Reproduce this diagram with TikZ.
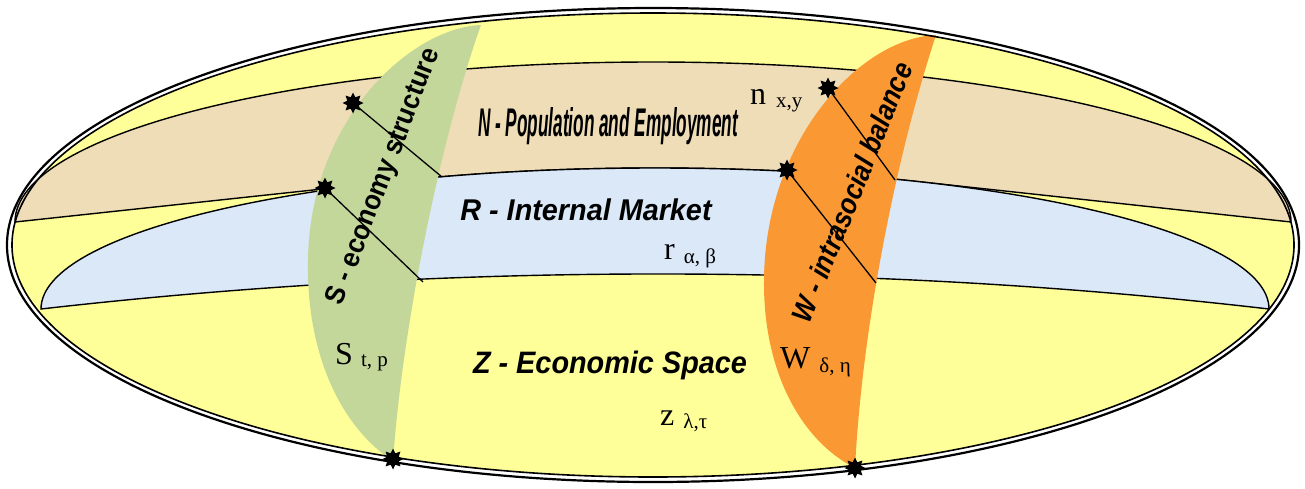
\documentclass[tikz,border=0pt]{standalone}
\usepackage{fontspec}
\setmainfont{Liberation Serif}
\setsansfont{Liberation Sans}
\usetikzlibrary{shapes.geometric}
\definecolor{ylw}{RGB}{255,255,153}
\definecolor{tanc}{RGB}{239,221,184}
\definecolor{bluec}{RGB}{218,232,247}
\definecolor{greenc}{RGB}{196,215,155}
\definecolor{orangec}{RGB}{250,153,51}
\begin{document}
\begin{tikzpicture}[x=1pt,y=-1pt,
  band/.style={draw=black,line width=1.4pt},
  starmark/.style={star,star points=8,star point ratio=1.7,minimum size=21pt,inner sep=0pt,fill=black},
  ptr/.style={draw=black,line width=1.3pt},
  lab/.style={inner sep=0pt},
  ser/.style={inner sep=0pt,anchor=base west,font=\fontsize{32}{36}\selectfont}]
\useasboundingbox (0,0) rectangle (1305,488);
% interior
\fill[ylw] (653,245) ellipse[x radius=641, y radius=232];
% N band
\path[band,fill=tanc] (15,222) arc[start angle=180,end angle=360,x radius=638,y radius=160]
  -- (917.2,181.5) arc[start angle=295.3,end angle=245,x radius=614,y radius=141] -- cycle;
% R band
\path[band,fill=bluec] (41,309) arc[start angle=180,end angle=360,x radius=614,y radius=141]
  .. controls (867,262.3) and (451,262.3) .. cycle;
% S band
\fill[greenc] (393,461) .. controls (402,330) and (440,140) .. (481,25)
  .. controls (410,28) and (310,120) .. (308,260)
  .. controls (306,360) and (345,430) .. cycle;
% W band
\fill[orangec] (855,468) .. controls (862,330) and (895,160) .. (936,35)
  .. controls (860,38) and (765,140) .. (764,280)
  .. controls (763,370) and (800,440) .. cycle;
% outline
\draw[line width=2.2pt] (653,245) ellipse[x radius=646, y radius=237];
\draw[line width=1.6pt] (653,245) ellipse[x radius=641, y radius=232];
% markers
\node[starmark] (s1) at (353,103) {};
\node[starmark] (s2) at (325,188) {};
\node[starmark] (s3) at (393,459) {};
\node[starmark] (w1) at (828,88) {};
\node[starmark] (w2) at (787,170) {};
\node[starmark] (w3) at (855,468) {};
\coordinate (s1e) at (442,177);
\coordinate (s2e) at (423,282);
\coordinate (w1e) at (895,180);
\coordinate (w2e) at (876,283);
\draw[ptr] (s1.center) -- (s1e);
\draw[ptr] (s2.center) -- (s2e);
\draw[ptr] (w1.center) -- (w1e);
\draw[ptr] (w2.center) -- (w2e);
% labels
\node[lab,anchor=base] (ntext) at (608,136) {\fontsize{40}{44}\selectfont\sffamily\bfseries\itshape\scalebox{0.43}[1]{N - Population and Employment}};
\node[lab,anchor=base] (rtext) at (586,220) {\fontsize{30}{36}\selectfont\sffamily\bfseries\itshape\scalebox{0.96}[1]{R - Internal Market}};
\node[lab,anchor=base] (ztext) at (610,373) {\fontsize{31}{36}\selectfont\sffamily\bfseries\itshape\scalebox{0.93}[1]{Z - Economic Space}};
\node[lab,rotate=69] (stext) at (384,177) {\fontsize{28}{32}\selectfont\sffamily\bfseries\scalebox{0.92}[1]{S - economy structure}};
\node[lab,rotate=68] (wtext) at (852,192) {\fontsize{29}{32}\selectfont\sffamily\bfseries\itshape\scalebox{0.88}[1]{W - intrasocial balance}};
\node[ser] (nlab) at (750,104) {n\hspace{10pt}\raisebox{-3pt}{\fontsize{21}{24}\selectfont x,y}};
\node[ser] (rlab) at (664,259) {r\hspace{9pt}\raisebox{-4pt}{\fontsize{21}{24}\selectfont α, β}};
\node[ser] (slab) at (335,364) {S\hspace{8pt}\raisebox{-2pt}{\fontsize{21}{24}\selectfont t, p}};
\node[ser] (wlab) at (780,368) {W\hspace{9pt}\raisebox{-4pt}{\fontsize{21}{24}\selectfont δ, η}};
\node[ser] (zlab) at (660,425) {z\hspace{9pt}\raisebox{-3pt}{\fontsize{21}{24}\selectfont λ,τ}};
\end{tikzpicture}
\end{document}
